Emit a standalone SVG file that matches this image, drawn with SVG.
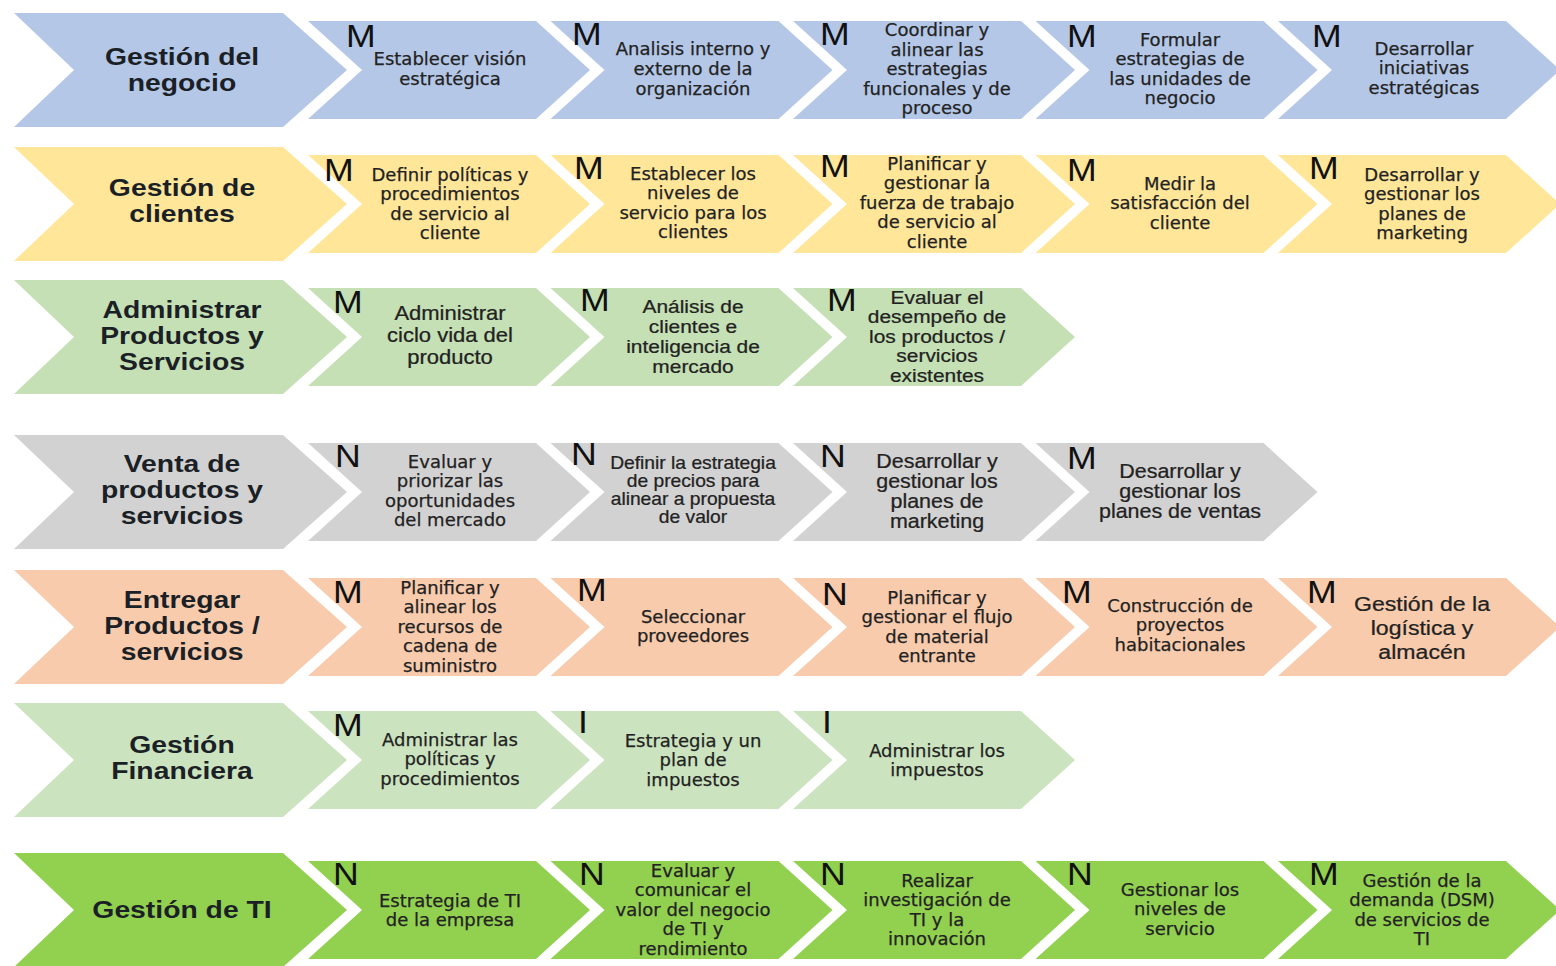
<svg xmlns="http://www.w3.org/2000/svg" xmlns:xlink="http://www.w3.org/1999/xlink" width="1556" height="966" viewBox="0 0 1556 966">
  <style>
    .r1 { fill: #B4C7E7; }
    .r2 { fill: #FFE699; }
    .r3 { fill: #C5E0B4; }
    .r4 { fill: #D3D2D2; }
    .r5 { fill: #F8CBAD; }
    .r6 { fill: #CBE3BE; }
    .r7 { fill: #92D050; }
    .hd { font-family: "Liberation Sans", Arial, sans-serif; font-weight: bold; font-size: 24px; fill: #1b1f26; text-anchor: middle; }
    .mk { font-family: "Liberation Sans", Arial, sans-serif; font-size: 31px; fill: #111; }
    .tx { font-family: "DejaVu Sans", "Liberation Sans", sans-serif; font-size: 18px; fill: #222; stroke: #222; stroke-width: 0.25; text-anchor: middle; }
    .ta { font-family: "Liberation Sans", Arial, sans-serif; fill: #222; stroke: #222; stroke-width: 0.25; text-anchor: middle; }
  </style>
  <defs>
    <!-- row title arrow and process step chevron, both anchored at top-left -->
    <path id="hdr" d="M0,0 H269 L333,57 L269,114 H0 L60,57 Z"/>
    <path id="stp" d="M0,0 H228 L282,49 L228,98 H0 L54,49 Z"/>
  </defs>
  <rect width="1556" height="966" fill="#ffffff"/>

  <!-- Row 1: Gestión del negocio -->
  <g id="row1-head"><use xlink:href="#hdr" class="r1" x="14" y="13"/>
    <text class="hd" transform="translate(182 0) scale(1.18 1)"><tspan x="0" y="65">Gestión del</tspan><tspan x="0" y="91">negocio</tspan></text></g>
  <g id="row1-s1"><use xlink:href="#stp" class="r1" x="308" y="21"/>
    <text class="mk" transform="translate(346 47) scale(1.15 1)">M</text>
    <text class="tx"><tspan x="450" y="64.5">Establecer visión</tspan><tspan x="450" y="84.5">estratégica</tspan></text></g>
  <g id="row1-s2"><use xlink:href="#stp" class="r1" x="550.5" y="21"/>
    <text class="mk" transform="translate(572 45) scale(1.15 1)">M</text>
    <text class="tx"><tspan x="693" y="54.5">Analisis interno y</tspan><tspan x="693" y="74.5">externo de la</tspan><tspan x="693" y="94.5">organización</tspan></text></g>
  <g id="row1-s3"><use xlink:href="#stp" class="r1" x="793" y="21"/>
    <text class="mk" transform="translate(820 45) scale(1.15 1)">M</text>
    <text class="tx"><tspan x="937" y="36">Coordinar y</tspan><tspan x="937" y="55.5">alinear las</tspan><tspan x="937" y="75">estrategias</tspan><tspan x="937" y="94.5">funcionales y de</tspan><tspan x="937" y="114">proceso</tspan></text></g>
  <g id="row1-s4"><use xlink:href="#stp" class="r1" x="1035.5" y="21"/>
    <text class="mk" transform="translate(1067 47) scale(1.15 1)">M</text>
    <text class="tx"><tspan x="1180" y="45.5">Formular</tspan><tspan x="1180" y="65">estrategias de</tspan><tspan x="1180" y="84.5">las unidades de</tspan><tspan x="1180" y="104">negocio</tspan></text></g>
  <g id="row1-s5"><use xlink:href="#stp" class="r1" x="1278" y="21"/>
    <text class="mk" transform="translate(1312 47) scale(1.15 1)">M</text>
    <text class="tx"><tspan x="1424" y="54.5">Desarrollar</tspan><tspan x="1424" y="74">iniciativas</tspan><tspan x="1424" y="93.5">estratégicas</tspan></text></g>

  <!-- Row 2: Gestión de clientes -->
  <g id="row2-head"><use xlink:href="#hdr" class="r2" x="14" y="147"/>
    <text class="hd" transform="translate(182 0) scale(1.18 1)"><tspan x="0" y="196">Gestión de</tspan><tspan x="0" y="222">clientes</tspan></text></g>
  <g id="row2-s1"><use xlink:href="#stp" class="r2" x="308" y="155"/>
    <text class="mk" transform="translate(324 181) scale(1.15 1)">M</text>
    <text class="tx"><tspan x="450" y="180.5">Definir políticas y</tspan><tspan x="450" y="200">procedimientos</tspan><tspan x="450" y="219.5">de servicio al</tspan><tspan x="450" y="239">cliente</tspan></text></g>
  <g id="row2-s2"><use xlink:href="#stp" class="r2" x="550.5" y="155"/>
    <text class="mk" transform="translate(574 179) scale(1.15 1)">M</text>
    <text class="tx"><tspan x="693" y="179.5">Establecer los</tspan><tspan x="693" y="199">niveles de</tspan><tspan x="693" y="218.5">servicio para los</tspan><tspan x="693" y="238">clientes</tspan></text></g>
  <g id="row2-s3"><use xlink:href="#stp" class="r2" x="793" y="155"/>
    <text class="mk" transform="translate(820 177) scale(1.15 1)">M</text>
    <text class="tx"><tspan x="937" y="169.5">Planificar y</tspan><tspan x="937" y="189">gestionar la</tspan><tspan x="937" y="208.5">fuerza de trabajo</tspan><tspan x="937" y="228">de servicio al</tspan><tspan x="937" y="247.5">cliente</tspan></text></g>
  <g id="row2-s4"><use xlink:href="#stp" class="r2" x="1035.5" y="155"/>
    <text class="mk" transform="translate(1067 181) scale(1.15 1)">M</text>
    <text class="tx"><tspan x="1180" y="189.5">Medir la</tspan><tspan x="1180" y="209">satisfacción del</tspan><tspan x="1180" y="228.5">cliente</tspan></text></g>
  <g id="row2-s5"><use xlink:href="#stp" class="r2" x="1278" y="155"/>
    <text class="mk" transform="translate(1309 179) scale(1.15 1)">M</text>
    <text class="tx"><tspan x="1422" y="180.5">Desarrollar y</tspan><tspan x="1422" y="200">gestionar los</tspan><tspan x="1422" y="219.5">planes de</tspan><tspan x="1422" y="239">marketing</tspan></text></g>

  <!-- Row 3: Administrar Productos y Servicios -->
  <g id="row3-head"><use xlink:href="#hdr" class="r3" x="14" y="280"/>
    <text class="hd" transform="translate(182 0) scale(1.18 1)"><tspan x="0" y="318">Administrar</tspan><tspan x="0" y="344">Productos y</tspan><tspan x="0" y="370">Servicios</tspan></text></g>
  <g id="row3-s1"><use xlink:href="#stp" class="r3" x="308" y="288"/>
    <text class="mk" transform="translate(333 313) scale(1.15 1)">M</text>
    <text class="ta" font-size="20" transform="translate(450 0) scale(1.1 1)"><tspan x="0" y="320">Administrar</tspan><tspan x="0" y="342">ciclo vida del</tspan><tspan x="0" y="364">producto</tspan></text></g>
  <g id="row3-s2"><use xlink:href="#stp" class="r3" x="550.5" y="288"/>
    <text class="mk" transform="translate(580 311) scale(1.15 1)">M</text>
    <text class="ta" font-size="19" transform="translate(693 0) scale(1.1 1)"><tspan x="0" y="313">Análisis de</tspan><tspan x="0" y="333">clientes e</tspan><tspan x="0" y="353">inteligencia de</tspan><tspan x="0" y="373">mercado</tspan></text></g>
  <g id="row3-s3"><use xlink:href="#stp" class="r3" x="793" y="288"/>
    <text class="mk" transform="translate(827 311) scale(1.15 1)">M</text>
    <text class="ta" font-size="19" transform="translate(937 0) scale(1.1 1)"><tspan x="0" y="304">Evaluar el</tspan><tspan x="0" y="323.5">desempeño de</tspan><tspan x="0" y="343">los productos /</tspan><tspan x="0" y="362.5">servicios</tspan><tspan x="0" y="382">existentes</tspan></text></g>

  <!-- Row 4: Venta de productos y servicios -->
  <g id="row4-head"><use xlink:href="#hdr" class="r4" x="14" y="435"/>
    <text class="hd" transform="translate(182 0) scale(1.18 1)"><tspan x="0" y="472">Venta de</tspan><tspan x="0" y="498">productos y</tspan><tspan x="0" y="524">servicios</tspan></text></g>
  <g id="row4-s1"><use xlink:href="#stp" class="r4" x="308" y="443"/>
    <text class="mk" transform="translate(335 467) scale(1.15 1)">N</text>
    <text class="tx"><tspan x="450" y="467.5">Evaluar y</tspan><tspan x="450" y="487">priorizar las</tspan><tspan x="450" y="506.5">oportunidades</tspan><tspan x="450" y="526">del mercado</tspan></text></g>
  <g id="row4-s2"><use xlink:href="#stp" class="r4" x="550.5" y="443"/>
    <text class="mk" transform="translate(571 465) scale(1.15 1)">N</text>
    <text class="ta" font-size="17.5" transform="translate(693 0) scale(1.1 1)"><tspan x="0" y="469">Definir la estrategia</tspan><tspan x="0" y="487">de precios para</tspan><tspan x="0" y="505">alinear a propuesta</tspan><tspan x="0" y="523">de valor</tspan></text></g>
  <g id="row4-s3"><use xlink:href="#stp" class="r4" x="793" y="443"/>
    <text class="mk" transform="translate(820 467) scale(1.15 1)">N</text>
    <text class="ta" font-size="19.5" transform="translate(937 0) scale(1.1 1)"><tspan x="0" y="468">Desarrollar y</tspan><tspan x="0" y="488">gestionar los</tspan><tspan x="0" y="508">planes de</tspan><tspan x="0" y="528">marketing</tspan></text></g>
  <g id="row4-s4"><use xlink:href="#stp" class="r4" x="1035.5" y="443"/>
    <text class="mk" transform="translate(1067 469) scale(1.15 1)">M</text>
    <text class="ta" font-size="19.5" transform="translate(1180 0) scale(1.1 1)"><tspan x="0" y="478">Desarrollar y</tspan><tspan x="0" y="498">gestionar los</tspan><tspan x="0" y="518">planes de ventas</tspan></text></g>

  <!-- Row 5: Entregar Productos / servicios -->
  <g id="row5-head"><use xlink:href="#hdr" class="r5" x="14" y="570"/>
    <text class="hd" transform="translate(182 0) scale(1.18 1)"><tspan x="0" y="608">Entregar</tspan><tspan x="0" y="634">Productos /</tspan><tspan x="0" y="660">servicios</tspan></text></g>
  <g id="row5-s1"><use xlink:href="#stp" class="r5" x="308" y="578"/>
    <text class="mk" transform="translate(333 603) scale(1.15 1)">M</text>
    <text class="tx"><tspan x="450" y="593.5">Planificar y</tspan><tspan x="450" y="613">alinear los</tspan><tspan x="450" y="632.5">recursos de</tspan><tspan x="450" y="652">cadena de</tspan><tspan x="450" y="671.5">suministro</tspan></text></g>
  <g id="row5-s2"><use xlink:href="#stp" class="r5" x="550.5" y="578"/>
    <text class="mk" transform="translate(577 601) scale(1.15 1)">M</text>
    <text class="tx"><tspan x="693" y="622.5">Seleccionar</tspan><tspan x="693" y="642">proveedores</tspan></text></g>
  <g id="row5-s3"><use xlink:href="#stp" class="r5" x="793" y="578"/>
    <text class="mk" transform="translate(822 605) scale(1.15 1)">N</text>
    <text class="tx"><tspan x="937" y="603.5">Planificar y</tspan><tspan x="937" y="623">gestionar el flujo</tspan><tspan x="937" y="642.5">de material</tspan><tspan x="937" y="662">entrante</tspan></text></g>
  <g id="row5-s4"><use xlink:href="#stp" class="r5" x="1035.5" y="578"/>
    <text class="mk" transform="translate(1062 603) scale(1.15 1)">M</text>
    <text class="tx"><tspan x="1180" y="611.5">Construcción de</tspan><tspan x="1180" y="631">proyectos</tspan><tspan x="1180" y="650.5">habitacionales</tspan></text></g>
  <g id="row5-s5"><use xlink:href="#stp" class="r5" x="1278" y="578"/>
    <text class="mk" transform="translate(1307 603) scale(1.15 1)">M</text>
    <text class="ta" font-size="21" stroke-width="0" transform="translate(1422 0) scale(1.1 1)"><tspan x="0" y="611.5">Gestión de la</tspan><tspan x="0" y="635.5">logística y</tspan><tspan x="0" y="659.5">almacén</tspan></text></g>

  <!-- Row 6: Gestión Financiera -->
  <g id="row6-head"><use xlink:href="#hdr" class="r6" x="14" y="703"/>
    <text class="hd" transform="translate(182 0) scale(1.18 1)"><tspan x="0" y="753">Gestión</tspan><tspan x="0" y="779">Financiera</tspan></text></g>
  <g id="row6-s1"><use xlink:href="#stp" class="r6" x="308" y="711"/>
    <text class="mk" transform="translate(333 736) scale(1.15 1)">M</text>
    <text class="tx"><tspan x="450" y="745.5">Administrar las</tspan><tspan x="450" y="765">políticas y</tspan><tspan x="450" y="784.5">procedimientos</tspan></text></g>
  <g id="row6-s2"><use xlink:href="#stp" class="r6" x="550.5" y="711"/>
    <text class="mk" transform="translate(578 733) scale(1.15 1)">I</text>
    <text class="tx"><tspan x="693" y="746.5">Estrategia y un</tspan><tspan x="693" y="766">plan de</tspan><tspan x="693" y="785.5">impuestos</tspan></text></g>
  <g id="row6-s3"><use xlink:href="#stp" class="r6" x="793" y="711"/>
    <text class="mk" transform="translate(822 733) scale(1.15 1)">I</text>
    <text class="tx"><tspan x="937" y="756.5">Administrar los</tspan><tspan x="937" y="776">impuestos</tspan></text></g>

  <!-- Row 7: Gestión de TI -->
  <g id="row7-head"><use xlink:href="#hdr" class="r7" x="14" y="853"/>
    <text class="hd" transform="translate(182 0) scale(1.18 1)"><tspan x="0" y="918">Gestión de TI</tspan></text></g>
  <g id="row7-s1"><use xlink:href="#stp" class="r7" x="308" y="861"/>
    <text class="mk" transform="translate(333 885) scale(1.15 1)">N</text>
    <text class="tx"><tspan x="450" y="906.5">Estrategia de TI</tspan><tspan x="450" y="926">de la empresa</tspan></text></g>
  <g id="row7-s2"><use xlink:href="#stp" class="r7" x="550.5" y="861"/>
    <text class="mk" transform="translate(579 885) scale(1.15 1)">N</text>
    <text class="tx"><tspan x="693" y="876.5">Evaluar y</tspan><tspan x="693" y="896">comunicar el</tspan><tspan x="693" y="915.5">valor del negocio</tspan><tspan x="693" y="935">de TI y</tspan><tspan x="693" y="954.5">rendimiento</tspan></text></g>
  <g id="row7-s3"><use xlink:href="#stp" class="r7" x="793" y="861"/>
    <text class="mk" transform="translate(820 885) scale(1.15 1)">N</text>
    <text class="tx"><tspan x="937" y="886.5">Realizar</tspan><tspan x="937" y="906">investigación de</tspan><tspan x="937" y="925.5">TI y la</tspan><tspan x="937" y="945">innovación</tspan></text></g>
  <g id="row7-s4"><use xlink:href="#stp" class="r7" x="1035.5" y="861"/>
    <text class="mk" transform="translate(1067 885) scale(1.15 1)">N</text>
    <text class="tx"><tspan x="1180" y="895.5">Gestionar los</tspan><tspan x="1180" y="915">niveles de</tspan><tspan x="1180" y="934.5">servicio</tspan></text></g>
  <g id="row7-s5"><use xlink:href="#stp" class="r7" x="1278" y="861"/>
    <text class="mk" transform="translate(1309 885) scale(1.15 1)">M</text>
    <text class="tx"><tspan x="1422" y="886.5">Gestión de la</tspan><tspan x="1422" y="906">demanda (DSM)</tspan><tspan x="1422" y="925.5">de servicios de</tspan><tspan x="1422" y="945">TI</tspan></text></g>
</svg>
